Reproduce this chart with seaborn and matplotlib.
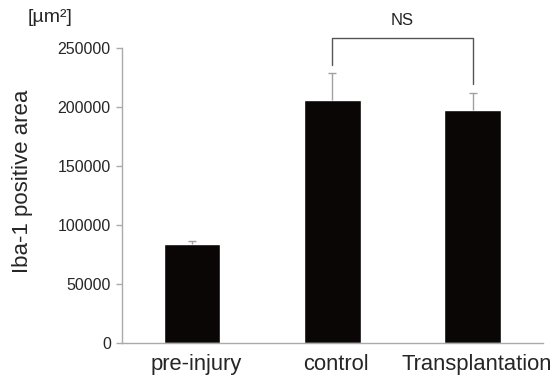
import numpy as np
import pandas as pd
import matplotlib
matplotlib.use("Agg")
import matplotlib.pyplot as plt
import matplotlib.transforms as mtransforms
import seaborn as sns

# ==========================
# DATA
# ==========================
groups = ["pre-injury", "control", "Transplantation"]
mean_area = [84000, 205700, 197200]
upper_err = [2700, 22500, 14100]   # one-sided (upper) error

# NS bracket between control and Transplantation
bracket_pair = (1, 2)
bracket_top = 257800
bracket_ends = [235200, 219200]
sig_label = "NS"

df = pd.DataFrame({"group": groups, "area": mean_area})

# ==========================
# PLOT
# ==========================
sns.set_style("white")
plt.rcParams["font.family"] = ["Liberation Sans", "DejaVu Sans"]

fig = plt.figure(figsize=(5.59, 3.81), dpi=100)
ax = fig.add_axes([0.218, 0.099, 0.753, 0.776])

sns.barplot(data=df, x="group", y="area", color="#0a0606",
            width=0.405, errorbar=None, saturation=1, ax=ax)

# upper-only error bars, cap only at the top
xs = np.arange(len(groups))
tops = np.array(mean_area) + np.array(upper_err)
ax.vlines(xs, mean_area, tops, color="#a0a0a0", lw=1, zorder=3)
ax.scatter(xs, tops, marker="_", s=40, color="#a0a0a0", linewidths=1, zorder=3)

# bracket
x0, x1 = bracket_pair
ax.plot([x0, x0, x1, x1],
        [bracket_ends[0], bracket_top, bracket_top, bracket_ends[1]],
        color="#555555", lw=1, clip_on=False)
ax.text((x0 + x1) / 2, bracket_top + 15500, sig_label,
        ha="center", va="center", fontsize=12, color="#222222")

ax.set_xlim(-0.5, 2.5)
ax.set_ylim(0, 250000)
ax.set_yticks(np.arange(0, 250001, 50000))
ax.set_yticklabels([str(v) for v in range(0, 250001, 50000)], fontsize=11.5)

# category ticks between groups, labels centered
ax.set_xticks(xs)
ax.set_xticklabels(groups, fontsize=15.8)
ax.set_xticks([-0.5, 0.5, 1.5, 2.5], minor=True)
ax.tick_params(axis="x", which="major", length=0, pad=8)
ax.tick_params(axis="x", which="minor", length=5, color="#aaaaaa", width=1, direction="out")
ax.tick_params(axis="y", length=4, color="#aaaaaa", width=1, direction="out", left=True, pad=4)

shift = mtransforms.ScaledTranslation(4 / 100, 0, fig.dpi_scale_trans)
for lbl in ax.get_xticklabels():
    lbl.set_transform(lbl.get_transform() + shift)

for side in ["top", "right"]:
    ax.spines[side].set_visible(False)
for side in ["left", "bottom"]:
    ax.spines[side].set_color("#aaaaaa")
    ax.spines[side].set_linewidth(1)

ax.set_xlabel("")
ax.set_ylabel("Iba-1 positive area", fontsize=16)
ax.yaxis.set_label_coords(-0.21, 0.549)
fig.text(0.05, 0.953, "[µm²]", fontsize=14, ha="left", va="center")

fig.savefig("out.png", dpi=100)
